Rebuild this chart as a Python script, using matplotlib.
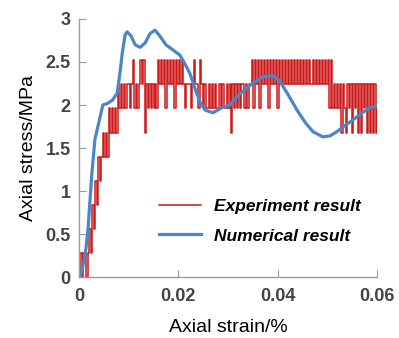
import matplotlib
matplotlib.use("Agg")
import matplotlib.pyplot as plt
import numpy as np

# experiment: stress readings sampled every 0.0003 strain (0 .. 0.06)
exp_stress = [
    0, 0.28, 0, 0.28, 0.28, 0, 0.28, 0.56, 0.28, 0.84,
    0.56, 1.12, 0.84, 1.4, 1.12, 1.4, 1.68, 1.4, 1.68, 1.4,
    1.96, 1.68, 1.96, 1.68, 1.96, 1.68, 2.24, 1.96, 2.24, 1.96,
    2.24, 1.96, 2.24, 2.24, 1.96, 2.24, 2.52, 1.96, 2.24, 1.96,
    2.24, 2.52, 2.24, 2.52, 1.68, 2.24, 1.96, 2.24, 1.96, 2.24,
    1.96, 2.24, 1.96, 2.52, 2.24, 2.52, 2.24, 2.52, 1.96, 2.52,
    2.24, 2.52, 2.24, 2.52, 1.96, 2.52, 2.24, 2.52, 2.24, 2.52,
    2.24, 1.96, 2.24, 2.24, 2.24, 1.96, 2.24, 2.52, 2.24, 2.24,
    1.96, 2.52, 2.24, 1.96, 2.24, 1.96, 1.96, 2.24, 1.96, 2.24,
    1.96, 2.24, 1.96, 1.96, 2.24, 1.96, 2.24, 1.96, 1.96, 2.24,
    1.96, 2.24, 1.68, 2.24, 1.96, 2.24, 1.96, 2.24, 1.96, 2.24,
    2.24, 1.96, 2.24, 1.96, 2.24, 2.24, 2.52, 1.96, 2.52, 2.24,
    2.52, 1.96, 2.52, 2.24, 2.52, 2.24, 2.52, 1.96, 2.52, 2.24,
    2.52, 2.24, 2.52, 1.96, 2.52, 2.24, 2.52, 2.24, 2.52, 2.24,
    2.52, 2.24, 2.52, 2.24, 2.52, 2.24, 2.52, 2.24, 2.52, 2.24,
    2.52, 2.24, 2.52, 2.24, 2.52, 2.24, 2.24, 2.52, 2.24, 2.52,
    2.24, 2.52, 2.24, 2.52, 2.24, 2.52, 2.24, 2.52, 1.96, 2.52,
    1.96, 2.24, 1.96, 2.24, 1.96, 2.24, 1.68, 2.24, 1.96, 1.68,
    2.24, 1.96, 2.24, 1.68, 2.24, 1.96, 2.24, 1.68, 2.24, 1.68,
    2.24, 1.96, 2.24, 1.68, 2.24, 1.68, 2.24, 1.68, 2.24, 1.68,
    1.96,
]
exp_strain = np.linspace(0, 0.06, len(exp_stress))

# numerical simulation curve
num_strain = [0.0002, 0.0012, 0.0018, 0.0026, 0.0032, 0.0042, 0.0048, 0.0058,
              0.0068, 0.0077, 0.0083, 0.0087, 0.0093, 0.0097, 0.0105, 0.0113,
              0.0123, 0.0133, 0.0143, 0.0153, 0.0163, 0.0175, 0.0189, 0.0203,
              0.0213, 0.0223, 0.0233, 0.0244, 0.0254, 0.0270, 0.0288, 0.0304,
              0.0318, 0.0338, 0.0354, 0.0370, 0.0391, 0.0405, 0.0421, 0.0439,
              0.0455, 0.0471, 0.0491, 0.0505, 0.0519, 0.0535, 0.0552, 0.0570,
              0.0586, 0.0600]
num_stress = [0.0, 0.23, 0.55, 1.21, 1.6, 1.85, 2.0, 2.02,
              2.06, 2.14, 2.4, 2.6, 2.82, 2.85, 2.8, 2.7,
              2.67, 2.72, 2.83, 2.87, 2.8, 2.7, 2.64, 2.58,
              2.48, 2.37, 2.2, 2.03, 1.94, 1.91, 1.97, 2.0,
              2.1, 2.2, 2.27, 2.33, 2.34, 2.27, 2.12, 1.94,
              1.8, 1.69, 1.63, 1.64, 1.69, 1.76, 1.83, 1.91,
              1.97, 1.99]

x_ticks = [0, 0.02, 0.04, 0.06]
x_labels = ["0", "0.02", "0.04", "0.06"]
y_ticks = [0, 0.5, 1, 1.5, 2, 2.5, 3]
y_labels = ["0", "0.5", "1", "1.5", "2", "2.5", "3"]

fig = plt.figure(figsize=(3.99, 3.38), dpi=100)
ax = fig.add_axes([0.198, 0.180, 0.747, 0.764])

ax.plot(exp_strain, exp_stress, color="#c80000", lw=1.1, alpha=0.9,
        drawstyle="steps-post", label="Experiment result")
ax.plot(num_strain, num_stress, color="#4a86c8", lw=2.3,
        label="Numerical result")

ax.set_xlim(0, 0.06)
ax.set_ylim(0, 3)
ax.set_xticks(x_ticks)
ax.set_xticklabels(x_labels)
ax.set_yticks(y_ticks)
ax.set_yticklabels(y_labels)

for side in ["top", "right"]:
    ax.spines[side].set_visible(False)
for side in ["left", "bottom"]:
    ax.spines[side].set_color("#9a9a9a")
    ax.spines[side].set_linewidth(1.0)
ax.tick_params(direction="in", length=5, color="#9a9a9a", labelsize=13,
               labelcolor="#444444")
ax.tick_params(axis="x", pad=8)
ax.tick_params(axis="y", pad=6)
for lab in ax.get_xticklabels() + ax.get_yticklabels():
    lab.set_family("Liberation Sans")
    lab.set_fontweight("bold")

ax.set_xlabel("Axial strain/%", fontsize=14, family="Liberation Sans", labelpad=10)
ax.set_ylabel("Axial stress/MPa", fontsize=14, family="Liberation Sans", labelpad=6)

ax.legend(loc="upper left", bbox_to_anchor=(0.24, 0.335), frameon=False,
          prop={"family": "Liberation Sans", "weight": "bold", "style": "italic",
                "size": 12.5},
          handlelength=2.4, handletextpad=0.75, labelspacing=0.8, borderpad=0)

fig.savefig("out.png", dpi=100)
